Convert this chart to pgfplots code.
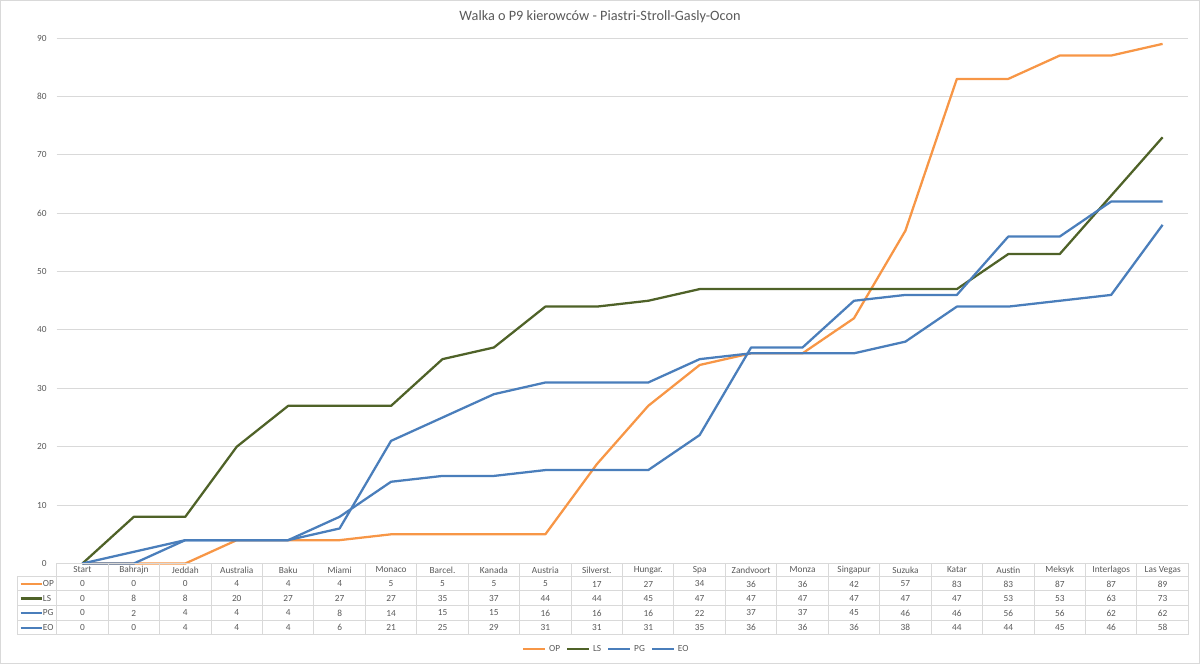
\documentclass[border=0pt]{standalone}
\usepackage{pgfplots}
\pgfplotsset{compat=1.18}
\usepackage{pgfplotstable}
\usepackage{fontspec}
\setmainfont{Carlito}
\definecolor{cOP}{HTML}{F79646}
\definecolor{cLS}{HTML}{4F6228}
\definecolor{cPG}{HTML}{4A7EBB}
\definecolor{cEO}{HTML}{4A7EBB}
\definecolor{txt}{HTML}{595959}
\definecolor{grd}{HTML}{D9D9D9}
\pgfplotstableread{
x OP LS PG EO
0 0 0 0 0
1 0 8 2 0
2 0 8 4 4
3 4 20 4 4
4 4 27 4 4
5 4 27 8 6
6 5 27 14 21
7 5 35 15 25
8 5 37 15 29
9 5 44 16 31
10 17 44 16 31
11 27 45 16 31
12 34 47 22 35
13 36 47 37 36
14 36 47 37 36
15 42 47 45 36
16 57 47 46 38
17 83 47 46 44
18 83 53 56 44
19 87 53 56 45
20 87 63 62 46
21 89 73 62 58
}\data
\newcommand{\tblfont}{\fontsize{7pt}{8pt}\selectfont}
\begin{document}
\begin{tikzpicture}[x=0.75pt,y=0.75pt]
\useasboundingbox (0,0) rectangle (1200,664);
\draw[grd, line width=0.75pt] (0.5,0.5) rectangle (1199.5,663.5);
\node[txt, font=\fontsize{10.7pt}{12pt}\selectfont] at (600,647) {Walka o P9 kierowców - Piastri-Stroll-Gasly-Ocon};
\begin{axis}[
  at={(42.525pt,75.375pt)}, anchor=south west,
  scale only axis, width=848.7pt, height=394.1pt,
  xmin=-0.5, xmax=21.5, ymin=0, ymax=90,
  ytick={0,10,...,90}, xtick=\empty,
  axis line style={draw=none}, major tick length=0pt,
  ymajorgrids, grid style={grd, line width=0.75pt},
  /pgf/number format/assume math mode=true,
  yticklabel style={txt, font=\tblfont, xshift=-4pt},
  clip=false,
  legend columns=-1,
  legend style={at={(0.486,-0.1627)}, anchor=center, draw=none, fill=none,
    font=\tblfont, text=txt, inner sep=0pt,
    /tikz/every even column/.append style={column sep=2.5pt}},
  legend image code/.code={\draw[#1] (0pt,0pt) -- (16.5pt,0pt);},
  every axis plot/.append style={line width=1.7pt, line join=round},
]
\addplot[cOP] table[x=x,y=OP]{\data};
\addplot[cLS] table[x=x,y=LS]{\data};
\addplot[cPG] table[x=x,y=PG]{\data};
\addplot[cEO] table[x=x,y=EO]{\data};
\legend{OP,LS,PG,EO}
\end{axis}
% data table
\begin{scope}[grd, line width=0.75pt]
\draw (56.7,100.7) -- (1188.3,100.7);
\foreach \yy in {87.3,73,58.3,43.7,29} {\draw (17.3,\yy) -- (1188.3,\yy);}
\draw (17.3,87.3) -- (17.3,29);
\foreach \k in {0,...,22} {\draw ({56.7+\k*51.44},100.7) -- ({56.7+\k*51.44},29);}
\end{scope}
\foreach \n [count=\i from 0] in {Start,Bahrajn,Jeddah,Australia,Baku,Miami,Monaco,Barcel.,Kanada,Austria,Silverst.,Hungar.,Spa,Zandvoort,Monza,Singapur,Suzuka,Katar,Austin,Meksyk,Interlagos,Las Vegas} {
  \node[txt, font=\tblfont] at ({56.7+(\i+0.5)*51.44},94) {\n};
}
\foreach \s/\yy/\c in {OP/80/cOP,LS/65.5/cLS,PG/51/cPG,EO/36.3/cEO} {
  \draw[\c, line width=1.7pt] (20.7,\yy) -- (42.3,\yy);
  \node[txt, font=\tblfont, anchor=west, inner sep=0pt] at (42.6,\yy) {\s};
  \foreach \i in {0,...,21} {
    \pgfplotstablegetelem{\i}{\s}\of\data
    \node[txt, font=\tblfont] at ({56.7+(\i+0.5)*51.44},\yy) {\pgfplotsretval};
  }
}
\end{tikzpicture}
\end{document}
